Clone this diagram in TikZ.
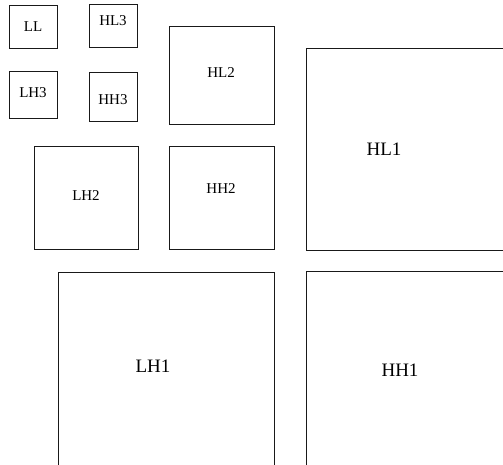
\documentclass[tikz,border=0pt]{standalone}
\usepackage{fontspec}
\setmainfont{Liberation Serif}
\usepackage{tikz}
\begin{document}
\begin{tikzpicture}[x=1pt, y=-1pt,
  band/.style={draw=black!90, line width=1pt},
  lbl/.style={font=\fontsize{15}{17}\selectfont},
  biglbl/.style={font=\fontsize{19}{21}\selectfont},
]
\useasboundingbox (0,0) rectangle (503,464);
\clip (0,0) rectangle (503,464);
% Level 3
\draw[band] (9,5) rectangle (57,48);      % LL
\draw[band] (89,4) rectangle (137,47);    % HL3
\draw[band] (9,71) rectangle (57,118);    % LH3
\draw[band] (89,72) rectangle (137,121);  % HH3
\node[lbl] (ll) at (33,27) {LL};
\node[lbl] (hl3) at (113,21) {HL3};
\node[lbl] (lh3) at (33,93) {LH3};
\node[lbl] (hh3) at (113,100) {HH3};
% Level 2
\draw[band] (169,26) rectangle (274,124);  % HL2
\draw[band] (34,146) rectangle (138,249);  % LH2
\draw[band] (169,146) rectangle (274,249); % HH2
\node[lbl] (hl2) at (221,73) {HL2};
\node[lbl] (lh2) at (86,196) {LH2};
\node[lbl] (hh2) at (221,189) {HH2};
% Level 1 (cut off at the page edge)
\draw[band] (306,48) rectangle (520,250);  % HL1
\draw[band] (58,272) rectangle (274,480);  % LH1
\draw[band] (306,271) rectangle (520,480); % HH1
\node[biglbl] (hl1) at (384,149) {HL1};
\node[biglbl] (lh1) at (153,366) {LH1};
\node[biglbl] (hh1) at (400,370) {HH1};
\end{tikzpicture}
\end{document}
